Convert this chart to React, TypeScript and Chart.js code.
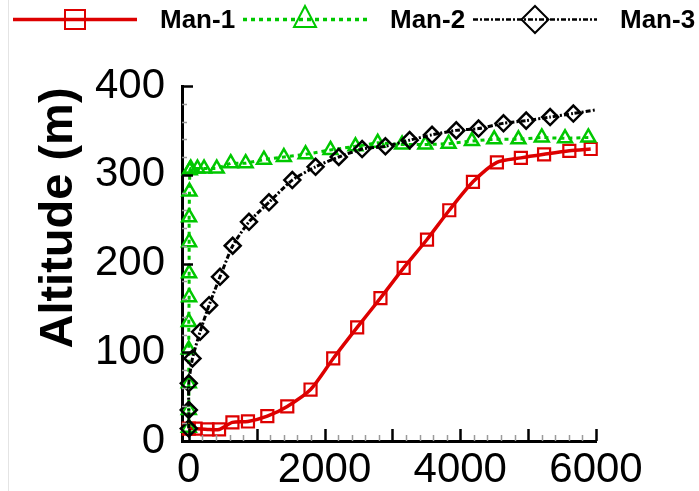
import React, { useEffect, useRef } from 'react';
import { Chart, registerables } from 'chart.js';

Chart.register(...registerables);

// ---- Data ----
const seriesNames = ['Man-1', 'Man-2', 'Man-3'];
const yTitle = 'Altitude (m)';

const man1X = [0, 100, 275, 446, 643, 872, 1157, 1451, 1794, 2128, 2481, 2824, 3166, 3510, 3838, 4187, 4540, 4893, 5235, 5607, 5922];
const man1Y = [14, 14, 13, 13, 21, 22, 28, 39, 58, 93, 128, 161, 195, 227, 260, 292, 314, 319, 323, 327, 329];

const man2X = [0, 0, 0, 0, 0, 5, 5, 5, 5, 10, 15, 29, 128, 225, 412, 618, 838, 1107, 1401, 1721, 2088, 2456, 2784, 3143, 3485, 3828, 4172, 4500, 4857, 5201, 5544, 5887];
const man2Y = [15, 35, 65, 103, 134, 162, 189, 224, 252, 281, 305, 307, 307, 307, 307, 313, 313, 317, 320, 323, 328, 332, 336, 334, 334, 335, 338, 340, 340, 342, 341, 342];

const man3X = [0, 0, 0, 54, 166, 299, 460, 647, 887, 1181, 1525, 1868, 2210, 2554, 2897, 3254, 3584, 3941, 4269, 4637, 4971, 5324, 5666, 5990];
const man3Y = [14, 35, 65, 93, 123, 153, 185, 220, 247, 269, 294, 309, 320, 329, 332, 339, 345, 350, 352, 358, 361, 365, 369, 373];

const xTickLabels = [0, 2000, 4000, 6000];
const yTickLabels = [0, 100, 200, 300, 400];
const xMin = -100;
const xMax = 6000;
const yMin = 0;
const yMax = 400;
const xMajorStep = 1000;
const xMinorStep = 200;
const yMajorStep = 100;
const yMinorStep = 20;

const FONT = '"Liberation Sans", Arial, Helvetica, sans-serif';
const RED = '#dd0000';
const GREEN = '#00c800';
const BLACK = '#000000';

const toPoints = (xs: number[], ys: number[]) => xs.map((x, i) => ({ x, y: ys[i] }));

function drawMarker(ctx: CanvasRenderingContext2D, style: string, cx: number, cy: number, w: number, h: number) {
  ctx.beginPath();
  if (style === 'rect') {
    ctx.rect(cx - w / 2, cy - h / 2, w, h);
  } else if (style === 'triangle') {
    ctx.moveTo(cx, cy - h / 2);
    ctx.lineTo(cx + w / 2, cy + h / 2);
    ctx.lineTo(cx - w / 2, cy + h / 2);
    ctx.closePath();
  } else {
    ctx.moveTo(cx, cy - h / 2);
    ctx.lineTo(cx + w / 2, cy);
    ctx.lineTo(cx, cy + h / 2);
    ctx.lineTo(cx - w / 2, cy);
    ctx.closePath();
  }
  ctx.stroke();
}

const legendSpecs = [
  { lineWidth: 3.5, markerW: 20, markerH: 19, markerY: 19.5 },
  { lineWidth: 3.5, markerW: 22, markerH: 21, markerY: 16.5 },
  { lineWidth: 2.5, markerW: 27, markerH: 27, markerY: 19.5 },
];

const decorPlugin = {
  id: 'decor',
  afterDatasetsDraw(chart: any) {
    const { ctx, chartArea, scales } = chart;
    const xs = scales.x;
    const ys = scales.y;
    ctx.save();
    for (let v = 0; v <= xMax; v += xMinorStep) {
      const px = Math.round(xs.getPixelForValue(v)) + 0.5;
      const major = v % xMajorStep === 0;
      ctx.strokeStyle = major ? '#000' : '#9a9a9a';
      ctx.lineWidth = major ? 2.5 : 1.5;
      ctx.beginPath();
      ctx.moveTo(px, chartArea.bottom);
      ctx.lineTo(px, chartArea.bottom - (major ? 12 : 6));
      ctx.stroke();
    }
    for (let v = yMin; v <= yMax; v += yMinorStep) {
      const py = Math.round(ys.getPixelForValue(v)) + 0.5;
      const major = v % yMajorStep === 0;
      ctx.strokeStyle = major ? '#000' : '#9a9a9a';
      ctx.lineWidth = major ? 2.5 : 1.5;
      ctx.beginPath();
      ctx.moveTo(chartArea.left, py);
      ctx.lineTo(chartArea.left + (major ? 11 : 5), py);
      ctx.stroke();
    }
    ctx.restore();
  },
  afterDraw(chart: any) {
    const { ctx } = chart;
    ctx.save();
    // faint frame line on the left
    ctx.strokeStyle = '#e4e4e4';
    ctx.lineWidth = 1;
    ctx.beginPath();
    ctx.moveTo(8.5, 0);
    ctx.lineTo(8.5, 491);
    ctx.stroke();

    // y title
    ctx.save();
    ctx.translate(72, 218);
    ctx.rotate(-Math.PI / 2);
    ctx.fillStyle = '#000';
    ctx.font = `bold 47px ${FONT}`;
    ctx.textAlign = 'center';
    ctx.textBaseline = 'alphabetic';
    ctx.fillText(yTitle, 0, 0);
    ctx.restore();

    // legend
    chart.data.datasets.forEach((d: any, i: number) => {
      const spec = legendSpecs[i];
      const x0 = 13 + i * 230;
      const x1 = x0 + 124;
      const y = 19.5;
      ctx.strokeStyle = d.borderColor;
      ctx.lineWidth = spec.lineWidth;
      ctx.setLineDash(d.borderDash || []);
      ctx.beginPath();
      ctx.moveTo(x0, y);
      ctx.lineTo(x1, y);
      ctx.stroke();
      ctx.setLineDash([]);
      ctx.lineWidth = 2;
      ctx.strokeStyle = d.pointBorderColor;
      drawMarker(ctx, d.pointStyle, (x0 + x1) / 2, spec.markerY, spec.markerW, spec.markerH);
      ctx.fillStyle = '#000';
      ctx.font = `bold 26px ${FONT}`;
      ctx.textAlign = 'left';
      ctx.textBaseline = 'alphabetic';
      ctx.fillText(d.label, x0 + 147, 28);
    });
    ctx.restore();
  },
};

export default function App() {
  const ref = useRef<HTMLCanvasElement | null>(null);

  useEffect(() => {
    if (!ref.current) return;
    const lastBlack = man3X.length - 1;
    const chart = new Chart(ref.current, {
      type: 'line',
      data: {
        datasets: [
          {
            label: seriesNames[0],
            data: toPoints(man1X, man1Y),
            borderColor: RED,
            borderWidth: 3.5,
            tension: 0.25,
            pointStyle: 'rect',
            pointRadius: 8.5,
            pointBorderWidth: 2.2,
            pointBorderColor: RED,
            pointBackgroundColor: 'rgba(0,0,0,0)',
            clip: false,
            order: 2,
          } as any,
          {
            label: seriesNames[1],
            data: toPoints(man2X, man2Y),
            borderColor: GREEN,
            borderWidth: 3,
            borderDash: [4, 4],
            tension: 0,
            pointStyle: 'triangle',
            pointRadius: 8,
            pointBorderWidth: 2.5,
            pointBorderColor: GREEN,
            pointBackgroundColor: 'rgba(0,0,0,0)',
            clip: false,
            order: 1,
          } as any,
          {
            label: seriesNames[2],
            data: toPoints(man3X, man3Y),
            borderColor: BLACK,
            borderWidth: 3,
            borderDash: [5, 2, 2, 2],
            tension: 0.2,
            pointStyle: 'rectRot',
            pointRadius: (c: any) => (c.dataIndex === lastBlack ? 0 : 8),
            pointBorderWidth: 2.5,
            pointBorderColor: BLACK,
            pointBackgroundColor: 'rgba(0,0,0,0)',
            clip: false,
            order: 0,
          } as any,
        ],
      },
      options: {
        responsive: false,
        animation: false,
        devicePixelRatio: 1,
        events: [],
        layout: { padding: { left: 0, right: 103, top: 86, bottom: 0 } },
        plugins: { legend: { display: false }, tooltip: { enabled: false } },
        scales: {
          x: {
            type: 'linear',
            min: xMin,
            max: xMax,
            afterBuildTicks: (s: any) => {
              s.ticks = xTickLabels.map((v) => ({ value: v }));
            },
            afterFit: (s: any) => {
              s.height = 50;
            },
            grid: { display: true, drawOnChartArea: false, drawTicks: false },
            border: { display: true, color: '#000', width: 3 },
            ticks: {
              color: '#000',
              font: { family: FONT, size: 42 },
              padding: 4,
              maxRotation: 0,
              autoSkip: false,
              callback: (v: any) => String(v),
            },
          },
          y: {
            type: 'linear',
            min: yMin,
            max: yMax,
            afterBuildTicks: (s: any) => {
              s.ticks = yTickLabels.map((v) => ({ value: v }));
            },
            afterFit: (s: any) => {
              s.width = 182;
            },
            grid: { display: true, drawOnChartArea: false, drawTicks: false },
            border: { display: true, color: '#000', width: 3 },
            ticks: {
              color: '#000',
              font: { family: FONT, size: 42 },
              padding: 17,
              autoSkip: false,
              callback: (v: any) => String(v),
            },
          },
        },
      } as any,
      plugins: [decorPlugin],
    });
    return () => chart.destroy();
  }, []);

  return (
    <div style={{ position: 'absolute', left: 0, top: 0, width: 699, height: 491, background: '#fff' }}>
      <canvas ref={ref} width={699} height={491} style={{ display: 'block', width: 699, height: 491 }} />
    </div>
  );
}
